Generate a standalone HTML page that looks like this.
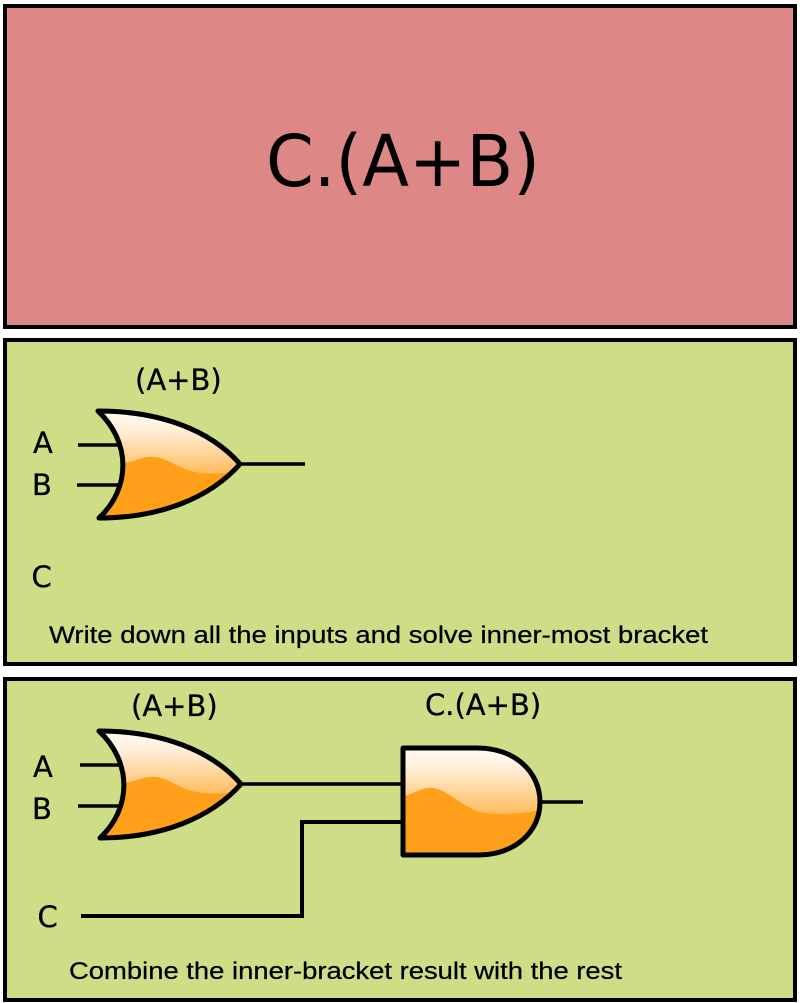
<!DOCTYPE html>
<html><head><meta charset="utf-8"><style>
html,body{margin:0;padding:0;background:#fff;}
svg{display:block;}
.lbl{font-family:"DejaVu Sans","Liberation Sans",sans-serif;font-size:29px;fill:#000;stroke:#000;stroke-width:0.3px;}
.cap{font-family:"Liberation Sans",Arial,sans-serif;font-size:24px;fill:#000;stroke:#000;stroke-width:0.25px;}
</style></head><body>
<svg width="800" height="1003" viewBox="0 0 800 1003" xmlns="http://www.w3.org/2000/svg">
<defs>
  <linearGradient id="hl" x1="0" y1="0" x2="0" y2="1">
    <stop offset="0" stop-color="#ffffff" stop-opacity="1"/>
    <stop offset="0.35" stop-color="#ffffff" stop-opacity="0.85"/>
    <stop offset="1" stop-color="#ffffff" stop-opacity="0.3"/>
  </linearGradient>
  <clipPath id="orclip"><path d="M98,411 C160,411 210,430 240,464 C210,498 160,518 99,518 C131,488 131,442 98,411 Z"/></clipPath>
  <clipPath id="andclip"><path d="M403,748 H477 C515,748 540,772 540,802 C540,832 515,855 477,855 H403 Z"/></clipPath>
  <g id="orgate">
    <path d="M98,411 C160,411 210,430 240,464 C210,498 160,518 99,518 C131,488 131,442 98,411 Z" fill="#ff9f1a"/>
    <g clip-path="url(#orclip)">
      <path d="M80,405 H250 V468 C236,472 215,476 195,472 C175,468 165,455 148,457 C138,458 133,463 120,463 L80,463 Z" fill="url(#hl)"/>
    </g>
    <path d="M98,411 C160,411 210,430 240,464 C210,498 160,518 99,518 C131,488 131,442 98,411 Z" fill="none" stroke="#000" stroke-width="5" stroke-linejoin="round"/>
  </g>
</defs>

<!-- top red panel -->
<rect x="5" y="6" width="790" height="321" fill="#de8787" stroke="#000" stroke-width="4"/>
<text x="266" y="186" font-family="'DejaVu Sans Condensed','DejaVu Sans',sans-serif" font-size="71" textLength="274" lengthAdjust="spacingAndGlyphs">C.(A+B)</text>

<!-- green panel 1 -->
<rect x="5" y="340" width="790" height="324" fill="#cdde87" stroke="#000" stroke-width="4"/>
<text class="lbl" x="135" y="390">(A+B)</text>
<text class="lbl" x="33" y="453">A</text>
<text class="lbl" x="32" y="495">B</text>
<text class="lbl" x="31.5" y="587">C</text>
<line x1="78" y1="445" x2="122" y2="445" stroke="#000" stroke-width="3.5"/>
<line x1="77" y1="485" x2="122" y2="485" stroke="#000" stroke-width="3.5"/>
<line x1="238" y1="464" x2="305" y2="464" stroke="#000" stroke-width="3.5"/>
<use href="#orgate"/>
<text class="cap" x="49" y="643" textLength="659" lengthAdjust="spacingAndGlyphs">Write down all the inputs and solve inner-most bracket</text>

<!-- green panel 2 -->
<rect x="5" y="679" width="790" height="321" fill="#cdde87" stroke="#000" stroke-width="4"/>
<text class="lbl" x="131" y="716">(A+B)</text>
<text class="lbl" x="425" y="715">C.(A+B)</text>
<text class="lbl" x="33" y="777">A</text>
<text class="lbl" x="32" y="819">B</text>
<text class="lbl" x="37.5" y="927">C</text>
<line x1="80" y1="765" x2="124" y2="765" stroke="#000" stroke-width="3.5"/>
<line x1="78" y1="806" x2="124" y2="806" stroke="#000" stroke-width="3.5"/>
<polyline points="238,784 403,784" fill="none" stroke="#000" stroke-width="3.5"/>
<polyline points="81,916 302,916 302,822 403,822" fill="none" stroke="#000" stroke-width="4"/>
<line x1="538" y1="802" x2="583" y2="802" stroke="#000" stroke-width="3.5"/>
<g transform="translate(1,320)"><use href="#orgate"/></g>
<!-- AND gate -->
<path d="M403,748 H477 C515,748 540,772 540,802 C540,832 515,855 477,855 H403 Z" fill="#ff9f1a"/>
<g clip-path="url(#andclip)">
  <path d="M395,740 H550 V808 C525,814 500,816 480,812 C460,806 445,786 428,788 C418,789 412,795 400,797 Z" fill="url(#hl)"/>
</g>
<path d="M403,748 H477 C515,748 540,772 540,802 C540,832 515,855 477,855 H403 Z" fill="none" stroke="#000" stroke-width="5" stroke-linejoin="round"/>
<text class="cap" x="69" y="979" textLength="553" lengthAdjust="spacingAndGlyphs">Combine the inner-bracket result with the rest</text>
</svg>
</body></html>
